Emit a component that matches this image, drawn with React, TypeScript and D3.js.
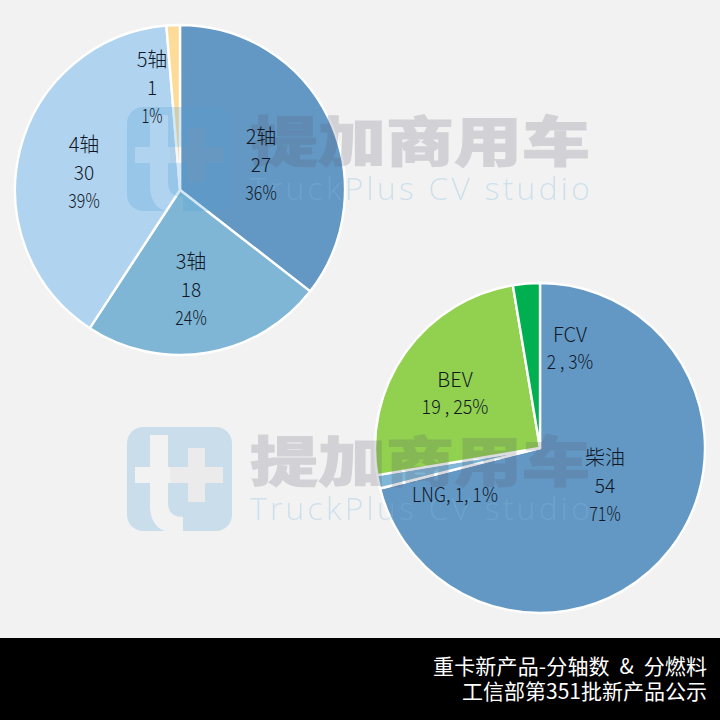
import React from "react";
import * as d3 from "d3";

const axleLabels = ["2轴", "3轴", "4轴", "5轴"];
const axleValues = [27, 18, 30, 1];
const axlePercents = ["36%", "24%", "39%", "1%"];
const axleColors = ["#6398c4", "#7fb6d5", "#b0d3ef", "#fddc9a"];

const fuelLabels = ["柴油", "LNG", "BEV", "FCV"];
const fuelValues = [54, 1, 19, 2];
const fuelPercents = ["71%", "1%", "25%", "3%"];
const fuelColors = ["#6398c4", "#7fb6d5", "#92d050", "#00b050"];

const titleLines = ["重卡新产品-分轴数  &  分燃料", "工信部第351批新产品公示"];
const watermarkCn = "提加商用车";
const watermarkEn = "TruckPlus CV studio";

const FONT = "'Noto Sans CJK SC', 'Noto Sans', sans-serif";
const INK = "#101828";

const pieGen = d3.pie<number>().sort(null).startAngle(0).endAngle(2 * Math.PI);

function Pie({ cx, cy, values, colors }: { cx: number; cy: number; values: number[]; colors: string[] }) {
  const arc = d3.arc<d3.PieArcDatum<number>>().innerRadius(0).outerRadius(165);
  return (
    <g transform={`translate(${cx},${cy})`}>
      {pieGen(values).map((d, i) => (
        <path key={i} d={arc(d) ?? ""} fill={colors[i]} stroke="#fff" strokeWidth={2.4} strokeLinejoin="round" />
      ))}
    </g>
  );
}

function lineWidth(s: string) {
  let w = 0;
  for (const c of s) {
    if (c === "%") w += 11;
    else if (c === " " || c === ",") w += 5;
    else if (/[0-9]/.test(c)) w += 10.2;
    else w += 11.5;
  }
  return w;
}

function Lines({ x, y, lines, step = 28 }: { x: number; y: number; lines: string[]; step?: number }) {
  return (
    <g fontFamily={FONT} fontWeight={300} fontSize={20} fill={INK} textAnchor="middle">
      {lines.map((l, i) => (
        <text
          key={i}
          x={x}
          y={y + i * step}
          xmlSpace="preserve"
          {...(/^[0-9 ,%LNG]+$/.test(l) ? { textLength: lineWidth(l), lengthAdjust: "spacingAndGlyphs" } : {})}
        >
          {l}
        </text>
      ))}
    </g>
  );
}

function Watermark({ y, id }: { y: number; id: string }) {
  const t = `M150 ${y + 8} h18 v32 h2 v16 h-2 v20 q0 14 15 14 v16 h-6 q-27 0 -27 -28 v-22 h-15 v-16 h15 z`;
  const plus = `M188 ${y + 21} h17 v19 h18 v16 h-18 v19 h-17 v-19 h-18 v-16 h18 z`;
  return (
    <g>
      <mask id={id} maskUnits="userSpaceOnUse" x={120} y={y - 5} width={120} height={115}>
        <rect x={120} y={y - 5} width={120} height={115} fill="#fff" />
        <path d={t} fill="#000" />
        <path d={plus} fill="#000" />
      </mask>
      <rect x={127} y={y} width={105} height={104} rx={16} fill="#4f9fd6" opacity={0.24} mask={`url(#${id})`} />
      <path d={plus} fill="#9a9aa0" opacity={0.08} />
      <text x={250} y={y + 55} fontFamily={FONT} fontWeight={900} fontSize={54} textLength={340} lengthAdjust="spacingAndGlyphs" fill="#55556a" stroke="#55556a" strokeWidth={1} opacity={0.2}>{watermarkCn}</text>
      <text x={250} y={y + 93} fontFamily="'Open Sans', sans-serif" fontWeight={300} fontSize={32} textLength={340} lengthAdjust="spacing" fill="#7fb8dc" opacity={0.3}>{watermarkEn}</text>
    </g>
  );
}

export default function App() {
  return (
    <svg width={720} height={720} viewBox="0 0 720 720" style={{ position: "fixed", left: 0, top: 0, display: "block" }}>
      <rect width={720} height={720} fill="#f2f2f2" />
      <Pie cx={180} cy={190} values={axleValues} colors={axleColors} />
      <Pie cx={540} cy={448} values={fuelValues} colors={fuelColors} />

      <Watermark y={107} id="wm1" />
      <Watermark y={427} id="wm2" />

      <Lines x={261} y={144} lines={[axleLabels[0], String(axleValues[0]), axlePercents[0]]} />
      <Lines x={191} y={269} lines={[axleLabels[1], String(axleValues[1]), axlePercents[1]]} />
      <Lines x={84} y={152} lines={[axleLabels[2], String(axleValues[2]), axlePercents[2]]} />
      <Lines x={152} y={67} lines={[axleLabels[3], String(axleValues[3]), axlePercents[3]]} />

      <Lines x={605} y={465} lines={[fuelLabels[0], String(fuelValues[0]), fuelPercents[0]]} />
      <Lines x={455} y={502} lines={[`${fuelLabels[1]}, ${fuelValues[1]}, ${fuelPercents[1]}`]} />
      <Lines x={455} y={387} lines={[fuelLabels[2], `${fuelValues[2]} , ${fuelPercents[2]}`]} step={27} />
      <Lines x={570} y={342} lines={[fuelLabels[3], `${fuelValues[3]} , ${fuelPercents[3]}`]} step={27} />

      <rect x={0} y={638} width={720} height={82} fill="#000" />
      <text x={707} y={674} textAnchor="end" fontFamily={FONT} fontSize={21} fill="#fff" xmlSpace="preserve" textLength={274} lengthAdjust="spacing">{titleLines[0]}</text>
      <text x={707} y={699} textAnchor="end" fontFamily={FONT} fontSize={21} fill="#fff">{titleLines[1]}</text>
    </svg>
  );
}
